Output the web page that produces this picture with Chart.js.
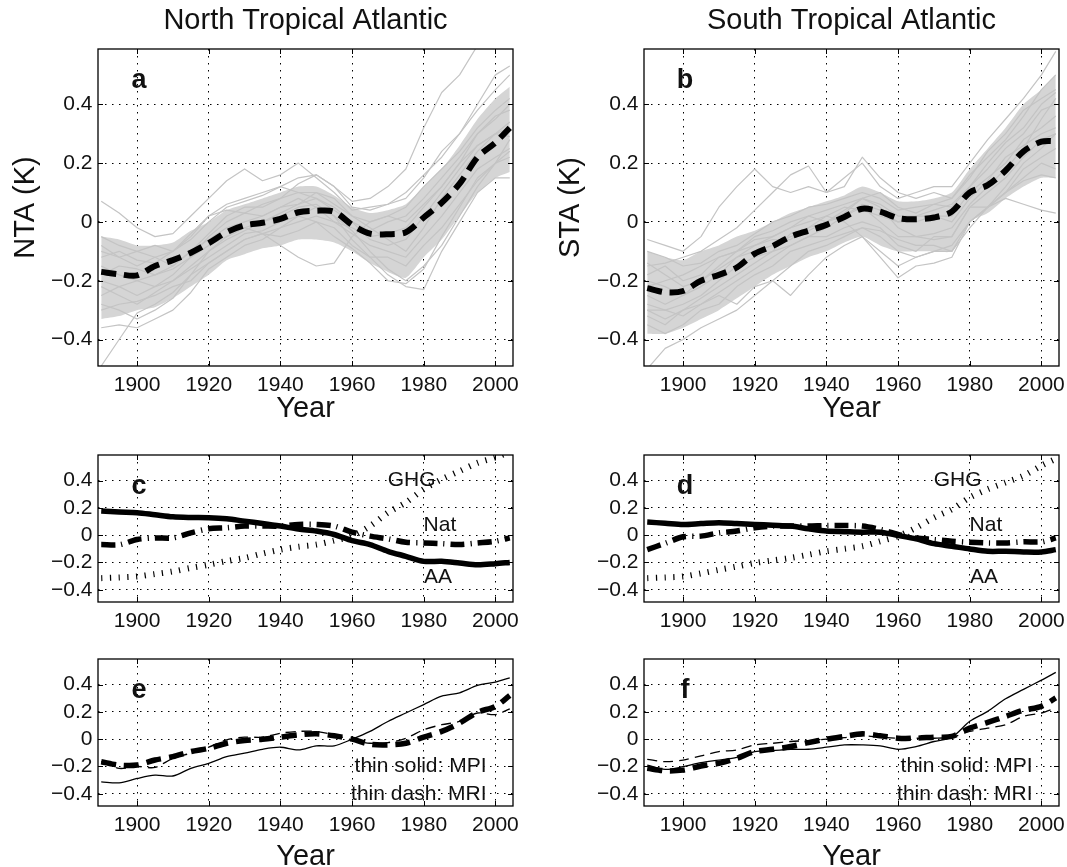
<!DOCTYPE html>
<html>
<head>
<meta charset="utf-8">
<title>Tropical Atlantic SST</title>
<script src="https://cdn.jsdelivr.net/npm/chart.js@4.4.1/dist/chart.umd.min.js"></script>
<style>
  html, body { margin: 0; padding: 0; background: #fff; }
  body { position: relative; width: 1067px; height: 867px; overflow: hidden; }
  canvas { position: absolute; }
</style>
</head>
<body>
<canvas id="panelA"></canvas>
<canvas id="panelB"></canvas>
<canvas id="panelC"></canvas>
<canvas id="panelD"></canvas>
<canvas id="panelE"></canvas>
<canvas id="panelF"></canvas>
<script>
// ---- data ----
const YEARS = [1890,1895,1900,1905,1910,1915,1920,1925,1930,1935,1940,1945,1950,1955,1960,1965,1970,1975,1980,1985,1990,1995,2000,2004];
const X_TICKS = [1900,1920,1940,1960,1980,2000];
const Y_TICKS = [-0.4,-0.2,0,0.2,0.4];

// a: North Tropical Atlantic, ensemble mean + spread
const ntaMean  = [-0.17,-0.178,-0.182,-0.15,-0.13,-0.105,-0.072,-0.035,-0.012,-0.003,0.01,0.033,0.038,0.035,-0.01,-0.04,-0.042,-0.035,0.015,0.065,0.13,0.22,0.27,0.32];
const ntaUpper = [-0.05,-0.06,-0.08,-0.08,-0.07,-0.03,0.0,0.04,0.06,0.08,0.1,0.12,0.12,0.09,0.05,0.03,0.04,0.06,0.12,0.18,0.26,0.35,0.42,0.46];
const ntaLower = [-0.33,-0.32,-0.3,-0.29,-0.26,-0.22,-0.18,-0.13,-0.11,-0.09,-0.08,-0.06,-0.06,-0.07,-0.1,-0.14,-0.17,-0.19,-0.12,-0.06,0.02,0.1,0.15,0.17];
const ntaMembers = [
  [0.07,0.03,-0.02,-0.05,-0.04,0.02,0.08,0.14,0.18,0.14,0.16,0.2,0.15,0.1,0.04,0.05,0.06,0.1,0.16,0.22,0.3,0.38,0.45,0.5],
  [-0.1,-0.12,-0.15,-0.12,-0.1,-0.05,0.02,0.06,0.08,0.1,0.12,0.15,0.16,0.12,0.07,0.08,0.12,0.18,0.32,0.44,0.5,0.6,0.66,0.7],
  [-0.49,-0.4,-0.31,-0.28,-0.24,-0.18,-0.14,-0.1,-0.06,-0.04,-0.02,0.0,0.02,0.0,-0.04,-0.08,-0.1,-0.12,-0.05,0.02,0.1,0.18,0.22,0.25],
  [-0.36,-0.35,-0.36,-0.33,-0.3,-0.24,-0.16,-0.12,-0.08,-0.06,-0.02,0.02,0.05,0.02,-0.03,-0.1,-0.16,-0.2,-0.15,-0.08,0.02,0.12,0.2,0.22],
  [-0.2,-0.22,-0.25,-0.22,-0.18,-0.12,-0.08,-0.05,-0.02,-0.04,-0.08,-0.12,-0.15,-0.14,-0.05,0.0,0.02,0.0,0.06,0.12,0.2,0.26,0.3,0.32],
  [-0.15,-0.18,-0.2,-0.22,-0.2,-0.15,-0.1,-0.05,-0.02,0.0,0.02,0.05,0.06,0.02,-0.06,-0.12,-0.18,-0.22,-0.23,-0.1,0.0,0.1,0.15,0.15],
  [-0.25,-0.22,-0.2,-0.18,-0.15,-0.1,-0.06,-0.02,0.0,0.02,0.05,0.08,0.05,0.0,-0.02,-0.05,-0.04,-0.02,0.05,0.12,0.2,0.3,0.35,0.4],
  [-0.12,-0.1,-0.13,-0.14,-0.1,-0.06,0.0,0.05,0.07,0.09,0.12,0.1,0.1,0.06,0.02,0.0,0.02,0.05,0.12,0.18,0.24,0.32,0.38,0.42],
  [-0.3,-0.28,-0.27,-0.25,-0.22,-0.2,-0.14,-0.1,-0.06,-0.04,-0.05,-0.03,0.0,-0.02,-0.08,-0.12,-0.12,-0.15,-0.08,-0.02,0.06,0.14,0.2,0.28],
  [-0.05,-0.08,-0.1,-0.12,-0.15,-0.1,-0.04,0.02,0.05,0.05,0.08,0.13,0.16,0.12,0.05,0.04,0.06,0.08,0.15,0.24,0.3,0.4,0.5,0.53],
  [-0.08,-0.12,-0.1,-0.08,-0.1,-0.04,0.02,0.04,0.03,0.06,0.08,0.1,0.08,0.04,0.0,-0.03,0.0,0.02,0.08,0.15,0.22,0.3,0.36,0.38],
  [-0.22,-0.25,-0.28,-0.24,-0.2,-0.16,-0.12,-0.08,-0.04,-0.03,0.0,0.02,0.0,-0.05,-0.09,-0.14,-0.2,-0.21,-0.16,-0.05,0.05,0.15,0.2,0.24],
  [-0.28,-0.3,-0.33,-0.3,-0.26,-0.18,-0.1,-0.06,-0.03,0.0,0.03,0.06,0.08,0.05,0.0,-0.06,-0.08,-0.06,0.02,0.1,0.18,0.26,0.3,0.34],
  [-0.18,-0.15,-0.16,-0.18,-0.16,-0.12,-0.05,0.0,0.03,0.02,0.05,0.06,0.1,0.08,0.02,-0.02,-0.06,-0.1,-0.02,0.08,0.16,0.24,0.3,0.29]
];

// b: South Tropical Atlantic
const staMean  = [-0.225,-0.239,-0.235,-0.2,-0.18,-0.155,-0.108,-0.082,-0.05,-0.03,-0.01,0.017,0.045,0.035,0.013,0.009,0.015,0.035,0.1,0.125,0.175,0.24,0.273,0.275];
const staUpper = [-0.1,-0.12,-0.13,-0.1,-0.08,-0.05,-0.03,0.0,0.03,0.05,0.07,0.09,0.12,0.1,0.07,0.07,0.08,0.1,0.18,0.25,0.32,0.4,0.45,0.5];
const staLower = [-0.38,-0.38,-0.36,-0.33,-0.3,-0.26,-0.22,-0.18,-0.15,-0.12,-0.1,-0.07,-0.05,-0.08,-0.1,-0.1,-0.1,-0.1,0.0,0.03,0.08,0.12,0.15,0.15];
const staMembers = [
  [-0.06,-0.08,-0.1,-0.05,0.05,0.12,0.18,0.12,0.1,0.12,0.1,0.15,0.2,0.12,0.08,0.1,0.12,0.12,0.2,0.28,0.35,0.42,0.5,0.58],
  [-0.15,-0.14,-0.12,-0.1,-0.06,-0.02,0.04,0.1,0.16,0.19,0.1,0.12,0.22,0.15,0.1,0.08,0.1,0.08,0.15,0.24,0.3,0.38,0.42,0.45],
  [-0.5,-0.43,-0.4,-0.36,-0.33,-0.3,-0.25,-0.2,-0.15,-0.1,-0.08,-0.05,-0.02,-0.05,-0.1,-0.12,-0.1,-0.08,0.0,0.05,0.1,0.15,0.2,0.18],
  [-0.3,-0.33,-0.3,-0.28,-0.25,-0.28,-0.22,-0.2,-0.25,-0.18,-0.12,-0.08,-0.05,-0.1,-0.15,-0.12,-0.1,-0.1,0.0,0.05,0.1,0.14,0.16,0.15],
  [-0.25,-0.28,-0.25,-0.2,-0.15,-0.1,-0.08,-0.05,-0.02,0.0,0.02,0.0,-0.05,-0.12,-0.19,-0.15,-0.14,-0.12,0.0,0.05,0.12,0.2,0.25,0.3],
  [-0.2,-0.22,-0.25,-0.22,-0.18,-0.12,-0.1,-0.08,-0.05,-0.03,0.0,0.02,0.05,0.0,-0.05,-0.05,-0.06,-0.05,0.05,0.05,0.08,0.06,0.04,0.03],
  [-0.3,-0.3,-0.28,-0.25,-0.2,-0.15,-0.12,-0.1,-0.08,-0.05,-0.02,0.02,0.06,0.04,0.0,0.0,0.02,0.02,0.1,0.15,0.2,0.28,0.32,0.36],
  [-0.1,-0.12,-0.15,-0.14,-0.1,-0.08,-0.04,0.0,0.02,0.05,0.06,0.08,0.1,0.08,0.04,0.05,0.06,0.08,0.16,0.22,0.28,0.36,0.45,0.5],
  [-0.35,-0.38,-0.35,-0.3,-0.28,-0.22,-0.18,-0.15,-0.1,-0.08,-0.06,-0.04,-0.02,-0.03,-0.06,-0.08,-0.08,-0.1,-0.02,0.05,0.1,0.18,0.22,0.25],
  [-0.18,-0.15,-0.2,-0.18,-0.12,-0.1,-0.06,-0.05,-0.02,0.02,0.04,0.06,0.08,0.06,0.02,0.02,0.04,0.06,0.12,0.18,0.25,0.3,0.38,0.4],
  [-0.22,-0.2,-0.18,-0.15,-0.12,-0.1,-0.05,-0.03,0.0,0.02,0.0,0.04,0.08,0.1,0.05,0.03,0.06,0.05,0.12,0.2,0.27,0.32,0.4,0.44],
  [-0.28,-0.3,-0.32,-0.28,-0.24,-0.2,-0.16,-0.12,-0.08,-0.05,-0.05,-0.02,0.0,-0.02,-0.08,-0.1,-0.05,-0.05,0.05,0.1,0.15,0.22,0.28,0.3],
  [-0.14,-0.18,-0.22,-0.2,-0.16,-0.12,-0.08,-0.06,-0.06,-0.02,0.02,0.05,0.04,0.02,0.0,0.02,0.02,0.0,0.08,0.14,0.22,0.26,0.3,0.32],
  [-0.32,-0.35,-0.3,-0.26,-0.22,-0.18,-0.14,-0.1,-0.04,-0.02,0.0,0.03,0.08,0.05,-0.02,-0.05,-0.04,-0.02,0.06,0.12,0.18,0.25,0.35,0.42]
];

// c / d: forcing components
const aaNorth  = [0.177,0.17,0.165,0.15,0.135,0.13,0.128,0.12,0.103,0.086,0.067,0.045,0.03,0.005,-0.04,-0.069,-0.118,-0.155,-0.192,-0.192,-0.204,-0.217,-0.209,-0.2];
const natNorth = [-0.069,-0.07,-0.032,-0.02,-0.02,0.017,0.047,0.054,0.067,0.067,0.067,0.079,0.079,0.067,0.022,-0.007,-0.027,-0.052,-0.057,-0.062,-0.069,-0.057,-0.044,-0.02];
const ghgNorth = [-0.315,-0.31,-0.303,-0.285,-0.266,-0.24,-0.217,-0.19,-0.167,-0.135,-0.106,-0.085,-0.069,-0.04,-0.007,0.067,0.165,0.24,0.337,0.41,0.47,0.53,0.57,0.61];
const aaSouth  = [0.096,0.088,0.079,0.085,0.091,0.085,0.079,0.073,0.067,0.047,0.03,0.026,0.022,0.022,-0.002,-0.027,-0.062,-0.081,-0.101,-0.118,-0.118,-0.123,-0.123,-0.106];
const natSouth = [-0.106,-0.06,-0.012,-0.007,0.017,0.03,0.054,0.067,0.067,0.067,0.071,0.071,0.067,0.042,0.005,-0.02,-0.032,-0.044,-0.052,-0.057,-0.057,-0.049,-0.049,-0.02];
const ghgSouth = [-0.315,-0.31,-0.303,-0.28,-0.254,-0.23,-0.204,-0.185,-0.167,-0.143,-0.118,-0.1,-0.081,-0.045,-0.007,0.054,0.128,0.19,0.276,0.337,0.387,0.436,0.51,0.56];
const forcingNotes = { text: ['GHG','Nat','AA'], x: [1976.6,1984.5,1984], y: [0.40,0.07,-0.31] };

// e / f: ensemble mean vs single models
const meanNorthE = [-0.165,-0.19,-0.19,-0.153,-0.128,-0.091,-0.067,-0.03,-0.01,0.0,0.015,0.032,0.039,0.025,0.0,-0.037,-0.042,-0.03,0.015,0.057,0.118,0.197,0.241,0.32];
const mpiNorth   = [-0.313,-0.32,-0.288,-0.264,-0.27,-0.214,-0.177,-0.128,-0.103,-0.074,-0.059,-0.079,-0.049,-0.049,0.0,0.057,0.13,0.192,0.254,0.315,0.34,0.394,0.419,0.45];
const mriNorth   = [-0.165,-0.214,-0.2,-0.207,-0.14,-0.103,-0.059,-0.005,0.015,0.015,0.044,0.057,0.057,0.032,-0.005,-0.03,-0.025,0.007,0.069,0.106,0.13,0.192,0.18,0.222];
const meanSouthF = [-0.214,-0.232,-0.227,-0.197,-0.177,-0.14,-0.091,-0.074,-0.054,-0.025,0.0,0.02,0.039,0.025,0.007,0.007,0.015,0.02,0.081,0.123,0.167,0.212,0.241,0.303];
const mpiSouth   = [-0.19,-0.222,-0.202,-0.172,-0.153,-0.133,-0.091,-0.084,-0.074,-0.074,-0.059,-0.042,-0.042,-0.049,-0.074,-0.054,-0.017,0.015,0.131,0.204,0.296,0.365,0.433,0.49];
const mriSouth   = [-0.148,-0.165,-0.153,-0.123,-0.091,-0.079,-0.042,-0.03,-0.017,-0.01,0.0,0.012,0.025,0.015,0.007,0.007,0.007,0.015,0.057,0.081,0.106,0.167,0.192,0.229];
const modelNotes = { text: ['thin solid: MPI','thin dash: MRI'], x: [1997.5,1997.5], y: [-0.2,-0.4] };

// ---- drawing ----
const FONT = '"Liberation Sans", Arial, Helvetica, sans-serif';
Chart.defaults.font.family = FONT;
Chart.defaults.font.size = 21;
Chart.defaults.color = '#111';

const pts = vals => vals.map((v, i) => ({ x: YEARS[i], y: v }));

function thickLine(vals, dash, width) {
  return { data: pts(vals), borderColor: '#000', borderWidth: width, borderDash: dash, tension: 0.3, fill: false };
}
function grayLine(vals) {
  return { data: pts(vals), borderColor: '#c4c4c4', borderWidth: 1.2, tension: 0, fill: false };
}
function spread(upper, lower) {
  return [
    { data: pts(upper), borderWidth: 0, backgroundColor: '#d5d5d5', fill: '+1', tension: 0.2 },
    { data: pts(lower), borderWidth: 0, fill: false, tension: 0.2 }
  ];
}
function notes(n, align) {
  return n.text.map((t, i) => ({ text: t, x: n.x[i], y: n.y[i], align: align }));
}

// frame, inward ticks, panel letter, titles and text notes
const decor = {
  id: 'decor',
  afterDraw(chart, args, opts) {
    const { ctx, chartArea: a } = chart;
    const xs = chart.scales.x, ys = chart.scales.y;
    ctx.save();
    ctx.strokeStyle = '#000';
    ctx.lineWidth = 1;
    ctx.beginPath();
    X_TICKS.forEach(v => {
      const p = Math.round(xs.getPixelForValue(v)) + 0.5;
      ctx.moveTo(p, a.bottom); ctx.lineTo(p, a.bottom - 5);
      ctx.moveTo(p, a.top); ctx.lineTo(p, a.top + 5);
    });
    Y_TICKS.forEach(v => {
      const p = Math.round(ys.getPixelForValue(v)) + 0.5;
      ctx.moveTo(a.left, p); ctx.lineTo(a.left + 5, p);
      ctx.moveTo(a.right, p); ctx.lineTo(a.right - 5, p);
    });
    ctx.stroke();
    ctx.lineWidth = 1.3;
    ctx.strokeRect(a.left, a.top, a.width, a.height);

    ctx.fillStyle = '#111';
    ctx.textAlign = 'center';
    ctx.textBaseline = 'alphabetic';
    ctx.font = 'bold 27px ' + FONT;
    ctx.fillText(opts.letter, a.left + 41, a.top + 39);
    if (opts.title) {
      ctx.font = '29px ' + FONT;
      ctx.fillText(opts.title, (a.left + a.right) / 2, 29);
    }
    ctx.font = '21px ' + FONT;
    ctx.textBaseline = 'middle';
    (opts.notes || []).forEach(n => {
      ctx.textAlign = n.align;
      ctx.fillText(n.text, xs.getPixelForValue(n.x), ys.getPixelForValue(n.y));
    });
    ctx.restore();
  }
};

// page geometry of the six axes boxes
const COLS = [
  { x: 0,   w: 540, left: 98,  right: 513,  yTitlePad: 8.6 },
  { x: 530, w: 555, left: 644, right: 1059, yTitlePad: 23.6 }
];
const ROWS = [
  { y: 0,   h: 430, top: 49,  bottom: 366, xTitlePad: 3.6 },
  { y: 430, h: 220, top: 455, bottom: 602 },
  { y: 630, h: 250, top: 659, bottom: 806, xTitlePad: 5.6 }
];

function makePanel(id, col, row, datasets, deco, yTitle) {
  const cv = document.getElementById(id);
  cv.width = col.w;
  cv.height = row.h;
  cv.style.left = col.x + 'px';
  cv.style.top = row.y + 'px';
  const yW = col.left - col.x;
  const xH = row.y + row.h - row.bottom;

  new Chart(cv, {
    type: 'line',
    data: { datasets: datasets },
    options: {
      responsive: false,
      animation: false,
      layout: { padding: { left: 0, top: row.top - row.y, right: col.x + col.w - col.right, bottom: 0 } },
      elements: { point: { radius: 0 }, line: { borderCapStyle: 'butt', borderJoinStyle: 'round' } },
      plugins: { legend: { display: false }, tooltip: { enabled: false }, decor: deco },
      scales: {
        x: {
          type: 'linear', min: 1889.1, max: 2004.9,
          afterBuildTicks: s => { s.ticks = X_TICKS.map(v => ({ value: v })); },
          afterFit: s => { s.height = xH; },
          ticks: { padding: 7, maxRotation: 0, callback: v => String(v) },
          grid: { color: '#000', lineWidth: 1, drawTicks: false },
          border: { display: false, dash: [1.5, 5.5] },
          title: { display: row.xTitlePad !== undefined, text: 'Year', font: { size: 29 }, padding: { top: 0, bottom: row.xTitlePad || 0 } }
        },
        y: {
          type: 'linear', min: -0.49, max: 0.588,
          afterBuildTicks: s => { s.ticks = Y_TICKS.map(v => ({ value: v })); },
          afterFit: s => { s.width = yW; },
          ticks: { padding: 5.5, callback: v => v === 0 ? '0' : (v < 0 ? '\u2212' : '') + Math.abs(v).toFixed(1) },
          grid: { color: '#000', lineWidth: 1, drawTicks: false },
          border: { display: false, dash: [1.5, 5.5] },
          title: { display: !!yTitle, text: yTitle || '', font: { size: 29 }, padding: { top: col.yTitlePad, bottom: 0 } }
        }
      }
    },
    plugins: [decor]
  });
}

const meanDash = [15, 8];

makePanel('panelA', COLS[0], ROWS[0],
  [thickLine(ntaMean, meanDash, 6)].concat(ntaMembers.map(grayLine), spread(ntaUpper, ntaLower)),
  { letter: 'a', title: 'North Tropical Atlantic' }, 'NTA (K)');

makePanel('panelB', COLS[1], ROWS[0],
  [thickLine(staMean, meanDash, 6)].concat(staMembers.map(grayLine), spread(staUpper, staLower)),
  { letter: 'b', title: 'South Tropical Atlantic' }, 'STA (K)');

makePanel('panelC', COLS[0], ROWS[1],
  [thickLine(aaNorth, [], 5.5), thickLine(natNorth, [14, 6, 1.2, 6], 5.5), thickLine(ghgNorth, [1.2, 7.5], 6)],
  { letter: 'c', notes: notes(forcingNotes, 'center') });

makePanel('panelD', COLS[1], ROWS[1],
  [thickLine(aaSouth, [], 5.5), thickLine(natSouth, [14, 6, 1.2, 6], 5.5), thickLine(ghgSouth, [1.2, 7.5], 6)],
  { letter: 'd', notes: notes(forcingNotes, 'center') });

makePanel('panelE', COLS[0], ROWS[2],
  [thickLine(meanNorthE, meanDash, 5.5), thickLine(mpiNorth, [], 1.3), thickLine(mriNorth, [10, 6], 1.3)],
  { letter: 'e', notes: notes(modelNotes, 'right') });

makePanel('panelF', COLS[1], ROWS[2],
  [thickLine(meanSouthF, meanDash, 5.5), thickLine(mpiSouth, [], 1.3), thickLine(mriSouth, [10, 6], 1.3)],
  { letter: 'f', notes: notes(modelNotes, 'right') });
</script>
</body>
</html>
